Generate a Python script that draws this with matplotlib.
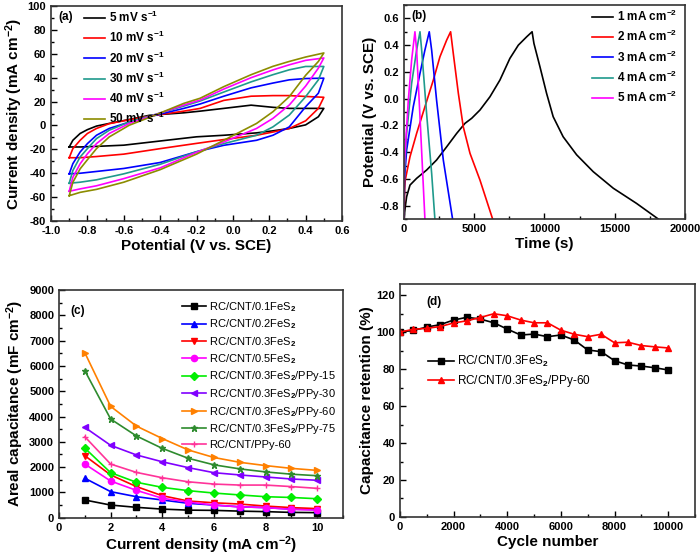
import matplotlib
matplotlib.use("Agg")
import matplotlib.pyplot as plt
from matplotlib.ticker import MultipleLocator
import numpy as np

plt.rcParams['font.family'] = ['Liberation Sans', 'DejaVu Sans']
plt.rcParams['font.weight'] = 'bold'
plt.rcParams['mathtext.fontset'] = 'custom'
plt.rcParams['mathtext.rm'] = 'Liberation Sans'
plt.rcParams['mathtext.bf'] = 'Liberation Sans:bold'
plt.rcParams['mathtext.default'] = 'bf'
plt.rcParams['axes.unicode_minus'] = False

# ---- (a) CV curves: current density (mA cm-2) on an upper and a lower branch
cv_labels = ["5 mV s$^{-1}$", "10 mV s$^{-1}$", "20 mV s$^{-1}$",
             "30 mV s$^{-1}$", "40 mV s$^{-1}$", "50 mV s$^{-1}$"]
cv_colors = ['black', '#ff0000', '#0000ff', '#1f9a8c', '#ff00ff', '#8c8c00']
v_up = [-0.9, -0.88, -0.84, -0.8, -0.75, -0.68, -0.57, -0.46, -0.27, -0.18,
        -0.05, 0.1, 0.22, 0.31, 0.4, 0.5]
v_low = [0.5, 0.47, 0.4, 0.31, 0.22, 0.13, -0.05, -0.2, -0.4, -0.6, -0.75,
         -0.84, -0.9]
i_up = [
    [-18, -12.4, -6.7, -3.5, -0.5, 1.7, 5, 8.5, 10.6, 12, 14.3, 17, 15.2, 14.3, 14.3, 14.3],
    [-27, -19.4, -12.4, -6.7, -2.5, 1.5, 4.8, 7.8, 12, 14.3, 21, 24.5, 25, 25, 24.3, 23.6],
    [-40.5, -32, -22.2, -15.2, -8.2, -2.5, 2.8, 7.3, 14.3, 18, 24.5, 31.5, 35.5, 38.2, 39.3, 39.6],
    [-48.4, -37.7, -26.4, -19.4, -11, -4, 3, 7.8, 16.2, 20.5, 28, 36.5, 42.5, 46.6, 49.4, 49.4],
    [-55.1, -43.4, -32.1, -23.7, -15.2, -6.7, 1.7, 7.3, 17.1, 21.3, 30.5, 40, 46.5, 50.8, 54.5, 56.5],
    [-58.8, -47.6, -36.3, -28.7, -19.4, -9.6, 0.2, 6.7, 18.5, 22.8, 32.5, 42.5, 49.5, 53.6, 57.3, 60.7],
]
i_low = [
    [14.3, 7.3, 0.5, -2.5, -4.5, -6.2, -8.2, -9.5, -13, -16.5, -17.5, -18, -18],
    [23.6, 14.3, 3.9, -2.5, -5.5, -8.2, -11.8, -15, -19.4, -24, -26, -27, -27],
    [39.6, 27, 15.7, -1.2, -8.2, -12.4, -16.6, -22, -31, -36, -38.5, -40, -40.5],
    [49.4, 38.2, 24.1, 8.7, -1.2, -8.2, -15.2, -22, -32.5, -40.5, -45.5, -47.5, -48.4],
    [56.5, 48, 33, 17.1, 5.9, -2.5, -13.8, -22.5, -35.5, -44.5, -50.5, -53.1, -55.1],
    [60.7, 53.6, 42, 24.1, 11.5, 1.7, -12.4, -24, -37, -47.5, -53.5, -56, -58.8],
]

# ---- (b) charge/discharge curves
gcd_labels = ["1 mA cm$^{-2}$", "2 mA cm$^{-2}$", "3 mA cm$^{-2}$",
              "4 mA cm$^{-2}$", "5 mA cm$^{-2}$"]
gcd_colors = ['black', '#ff0000', '#0000ff', '#1f9a8c', '#ff00ff']
gcd_t = [
    [0, 90, 190, 430, 900, 1610, 2320, 3040, 3750, 4340, 4820, 5410, 6120, 6830,
     7540, 8140, 8730, 9120, 9250, 9680, 10150, 10620, 11330, 12290, 13470,
     14900, 16550, 18100],
    [0, 50, 90, 430, 900, 1490, 2090, 2560, 3040, 3320, 3510, 3870, 4220, 4700,
     5410, 6310],
    [0, 40, 190, 660, 1140, 1490, 1800, 1970, 2320, 2800, 3460],
    [0, 30, 190, 545, 900, 1140, 1260, 1610, 1970, 2200],
    [0, 20, 310, 545, 780, 900, 1140, 1490],
]
gcd_v = [
    [-0.9, -0.81, -0.733, -0.646, -0.596, -0.534, -0.459, -0.36, -0.26, -0.185,
     -0.147, -0.085, 0.014, 0.139, 0.301, 0.40, 0.462, 0.5, 0.413, 0.238, 0.04,
     -0.135, -0.285, -0.42, -0.546, -0.67, -0.783, -0.9],
    [-0.9, -0.68, -0.609, -0.434, -0.26, -0.061, 0.139, 0.313, 0.438, 0.5, 0.338,
     0.04, -0.21, -0.409, -0.609, -0.9],
    [-0.9, -0.6, -0.384, -0.061, 0.189, 0.363, 0.5, 0.363, -0.01, -0.459, -0.9],
    [-0.9, -0.55, -0.26, 0.114, 0.363, 0.5, 0.363, -0.11, -0.558, -0.9],
    [-0.9, -0.5, -0.01, 0.288, 0.5, 0.363, -0.135, -0.9],
]

# ---- (c) areal capacitance vs current density
cd = [1, 2, 3, 4, 5, 6, 7, 8, 9, 10]
cap_labels = ["RC/CNT/0.1FeS$_{\\mathrm{2}}$", "RC/CNT/0.2FeS$_{\\mathrm{2}}$",
              "RC/CNT/0.3FeS$_{\\mathrm{2}}$", "RC/CNT/0.5FeS$_{\\mathrm{2}}$",
              "RC/CNT/0.3FeS$_{\\mathrm{2}}$/PPy-15", "RC/CNT/0.3FeS$_{\\mathrm{2}}$/PPy-30",
              "RC/CNT/0.3FeS$_{\\mathrm{2}}$/PPy-60", "RC/CNT/0.3FeS$_{\\mathrm{2}}$/PPy-75",
              "RC/CNT/PPy-60"]
cap_colors = ['black', '#0000ff', '#ff0000', '#ff00ff', '#00ee00', '#8000ff',
              '#ff8000', '#2e8b2e', '#ff3399']
cap_markers = ['s', '^', 'v', 'o', 'D', '<', '>', '*', '+']
cap_values = [
    [700, 500, 410, 340, 300, 290, 260, 240, 210, 200],
    [1560, 1030, 830, 700, 570, 500, 430, 400, 340, 320],
    [2450, 1690, 1230, 870, 660, 590, 540, 460, 400, 360],
    [2120, 1450, 1080, 770, 620, 500, 430, 400, 330, 300],
    [2750, 1780, 1400, 1200, 1070, 975, 900, 830, 800, 750],
    [3570, 2860, 2480, 2210, 1980, 1780, 1690, 1610, 1530, 1480],
    [6520, 4400, 3620, 3130, 2680, 2380, 2190, 2060, 1950, 1870],
    [5810, 3900, 3230, 2740, 2350, 2090, 1930, 1810, 1720, 1660],
    [3200, 2120, 1790, 1580, 1420, 1330, 1290, 1290, 1230, 1160],
]

# ---- (d) cycling stability
cycles = [0, 500, 1000, 1500, 2000, 2500, 3000, 3500, 4000, 4500, 5000, 5500,
          6000, 6500, 7000, 7500, 8000, 8500, 9000, 9500, 10000]
ret_fes2 = [100, 100.9, 102.7, 104, 106.5, 108, 107, 105, 101.6, 98.4, 98.9,
            97.5, 98.4, 95.7, 90.3, 89.4, 84.5, 82.2, 81.6, 80.7, 79.5]
ret_ppy = [100, 101.5, 102, 103, 104.9, 106.1, 107.9, 109.9, 108.8, 106.5, 105,
           105, 101, 98.8, 97.5, 98.8, 94.2, 94.5, 92.7, 92, 91.4]

fig = plt.figure(figsize=(7, 5.58), dpi=100)
ax_a = fig.add_axes([0.0729, 0.6039, 0.4157, 0.3853])
ax_b = fig.add_axes([0.5771, 0.6075, 0.4014, 0.3835])
ax_c = fig.add_axes([0.0843, 0.0722, 0.4057, 0.4081])
ax_d = fig.add_axes([0.5714, 0.0735, 0.4214, 0.4176])


def style(ax):
    ax.tick_params(which='both', direction='in', labelsize=8, width=1)
    ax.tick_params(which='major', length=4)
    ax.tick_params(which='minor', length=2)
    for s in ax.spines.values():
        s.set_linewidth(1.2)
        s.set_color('#333333')
    for lab in ax.get_xticklabels() + ax.get_yticklabels():
        lab.set_fontweight('bold')


# (a)
for k in range(len(cv_labels)):
    ax_a.plot(v_up + v_low, i_up[k] + i_low[k], color=cv_colors[k], lw=1.2,
              label=cv_labels[k])
ax_a.set_xlim(-1.0, 0.6)
ax_a.set_ylim(-80, 100)
ax_a.xaxis.set_major_locator(MultipleLocator(0.2))
ax_a.xaxis.set_minor_locator(MultipleLocator(0.1))
ax_a.yaxis.set_major_locator(MultipleLocator(20))
ax_a.yaxis.set_minor_locator(MultipleLocator(10))
ax_a.xaxis.set_major_formatter(plt.FuncFormatter(lambda x, p: "%.1f" % x))
ax_a.set_xlabel("Potential (V vs. SCE)", fontsize=11, fontweight='bold', labelpad=2)
ax_a.set_ylabel("Current density (mA cm$^{-2}$)", fontsize=11, fontweight='bold', labelpad=2)
ax_a.text(0.025, 0.975, "(a)", transform=ax_a.transAxes, fontsize=8.5,
          fontweight='bold', va='top')
ax_a.legend(loc='upper left', bbox_to_anchor=(0.085, 1.02), frameon=False,
            fontsize=8.5, handlelength=1.8, handletextpad=0.3, labelspacing=0.42,
            borderaxespad=0.3)
style(ax_a)

# (b)
for k in range(len(gcd_labels)):
    ax_b.plot(gcd_t[k], gcd_v[k], color=gcd_colors[k], lw=1.2, label=gcd_labels[k])
ax_b.set_xlim(0, 20000)
ax_b.set_ylim(-0.9, 0.7)
ax_b.xaxis.set_major_locator(MultipleLocator(5000))
ax_b.xaxis.set_minor_locator(MultipleLocator(2500))
ax_b.yaxis.set_major_locator(MultipleLocator(0.2))
ax_b.yaxis.set_minor_locator(MultipleLocator(0.1))
ax_b.yaxis.set_major_formatter(plt.FuncFormatter(lambda x, p: "%.1f" % x))
ax_b.set_xlabel("Time (s)", fontsize=11, fontweight='bold', labelpad=2)
ax_b.set_ylabel("Potential (V vs. SCE)", fontsize=11, fontweight='bold', labelpad=2)
ax_b.text(0.025, 0.975, "(b)", transform=ax_b.transAxes, fontsize=8.5,
          fontweight='bold', va='top')
ax_b.legend(loc='upper right', bbox_to_anchor=(1.0, 1.02), frameon=False,
            fontsize=8.5, handlelength=1.8, handletextpad=0.3, labelspacing=0.42,
            borderaxespad=0.3)
style(ax_b)

# (c)
for k in range(len(cap_labels)):
    ax_c.plot(cd, cap_values[k], color=cap_colors[k], marker=cap_markers[k],
              ms=4.5, lw=1.2, label=cap_labels[k])
ax_c.set_xlim(0, 11)
ax_c.set_ylim(0, 9000)
ax_c.xaxis.set_major_locator(MultipleLocator(2))
ax_c.xaxis.set_minor_locator(MultipleLocator(1))
ax_c.yaxis.set_major_locator(MultipleLocator(1000))
ax_c.yaxis.set_minor_locator(MultipleLocator(500))
ax_c.set_xlabel("Current density (mA cm$^{-2}$)", fontsize=11, fontweight='bold', labelpad=1)
ax_c.set_ylabel("Areal capacitance (mF cm$^{-2}$)", fontsize=11, fontweight='bold', labelpad=2)
ax_c.text(0.04, 0.935, "(c)", transform=ax_c.transAxes, fontsize=8.5,
          fontweight='bold', va='top')
ax_c.legend(loc='upper right', bbox_to_anchor=(1.0, 0.985), frameon=False,
            handlelength=2.2, handletextpad=0.3, labelspacing=0.32,
            borderaxespad=0.2, prop={'weight': 'normal', 'size': 8})
style(ax_c)

# (d)
ax_d.plot(cycles, ret_fes2, color='black', marker='s', ms=4.5, lw=1.2,
          label="RC/CNT/0.3FeS$_{\\mathrm{2}}$")
ax_d.plot(cycles, ret_ppy, color='#ff0000', marker='^', ms=5, lw=1.2,
          label="RC/CNT/0.3FeS$_{\\mathrm{2}}$/PPy-60")
ax_d.set_xlim(0, 11000)
ax_d.set_ylim(0, 126)
ax_d.xaxis.set_major_locator(MultipleLocator(2000))
ax_d.xaxis.set_minor_locator(MultipleLocator(1000))
ax_d.yaxis.set_major_locator(MultipleLocator(20))
ax_d.yaxis.set_minor_locator(MultipleLocator(10))
ax_d.set_xlabel("Cycle number", fontsize=11, fontweight='bold', labelpad=2)
ax_d.set_ylabel("Capacitance retention (%)", fontsize=11, fontweight='bold', labelpad=2)
ax_d.text(0.09, 0.95, "(d)", transform=ax_d.transAxes, fontsize=8.5,
          fontweight='bold', va='top')
ax_d.legend(loc='upper left', bbox_to_anchor=(0.06, 0.745), frameon=False,
            handlelength=2.2, handletextpad=0.2, labelspacing=0.3,
            prop={'weight': 'normal', 'size': 8.5})
style(ax_d)

plt.savefig("out.png", dpi=100)
